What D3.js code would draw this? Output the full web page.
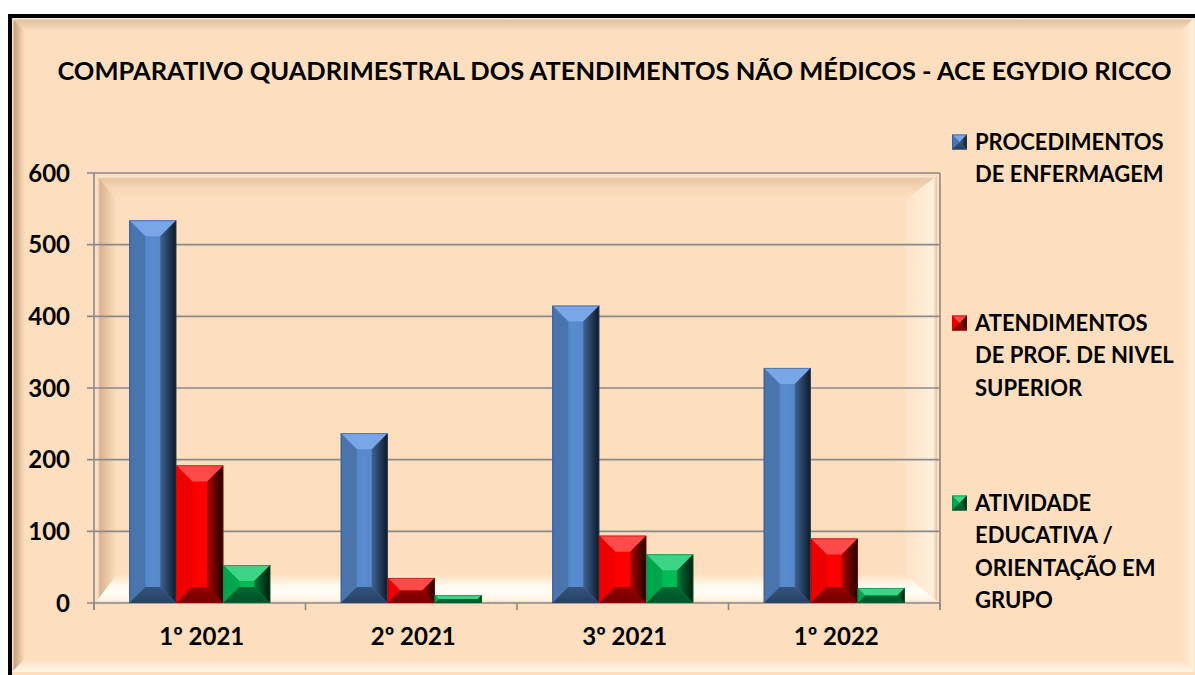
<!DOCTYPE html>
<html>
<head>
<meta charset="utf-8">
<script src="https://cdn.jsdelivr.net/npm/d3@7"></script>
<style>
  html, body { margin: 0; padding: 0; background: #ffffff; }
  svg { display: block; }
  text { font-family: Lato, "Open Sans", sans-serif; font-weight: bold; fill: #000; }
</style>
</head>
<body>
<svg id="chart" width="1195" height="675"></svg>
<script>
// ---- data ----
const title = "COMPARATIVO QUADRIMESTRAL DOS ATENDIMENTOS NÃO MÉDICOS - ACE EGYDIO RICCO";
const categories = ["1º 2021", "2º 2021", "3º 2021", "1º 2022"];
const seriesNames = ["PROCEDIMENTOS DE ENFERMAGEM", "ATENDIMENTOS DE PROF. DE NIVEL SUPERIOR", "ATIVIDADE EDUCATIVA / ORIENTAÇÃO EM GRUPO"];
const legendLines = [
  ["PROCEDIMENTOS", "DE ENFERMAGEM"],
  ["ATENDIMENTOS", "DE PROF. DE NIVEL", "SUPERIOR"],
  ["ATIVIDADE", "EDUCATIVA /", "ORIENTAÇÃO EM", "GRUPO"]
];
const procedimentos = [534, 237, 415, 328];
const atendimentos = [192, 35, 94, 90];
const atividade = [53, 11, 68, 21];
const yTicks = [0, 100, 200, 300, 400, 500, 600];

const seriesValues = [procedimentos, atendimentos, atividade];

// ---- styles ----
const palettes = [
  { face: "#5282C2", left: "#4A74AE", top: "#79A6E6", right0: "#3F6394", right1: "#0E1826", bottom: "#34557F", edge: "#2E4A72" },
  { face: "#FF0000", left: "#EE0000", top: "#FF4A4A", right0: "#B00000", right1: "#1A0000", bottom: "#960000", edge: "#B00000" },
  { face: "#00B050", left: "#00A64B", top: "#3ED488", right0: "#007838", right1: "#001A0C", bottom: "#006A34", edge: "#007038" }
];

const svg = d3.select("#chart");
const defs = svg.append("defs");

function linGrad(id, x1, y1, x2, y2, stops) {
  const g = defs.append("linearGradient").attr("id", id)
    .attr("x1", x1).attr("y1", y1).attr("x2", x2).attr("y2", y2);
  stops.forEach(s => g.append("stop").attr("offset", s[0]).attr("stop-color", s[1]));
  return "url(#" + id + ")";
}

palettes.forEach((p, i) => {
  p.rightFill = linGrad("rg" + i, 0, 0, 1, 0, [[0, p.right0], [1, p.right1]]);
  p.faceFill = linGrad("fg" + i, 0, 0, 1, 0, [[0, p.left], [0.45, d3.color(p.face).brighter(0.2)], [1, p.face]]);
  p.bottomFill = linGrad("bg" + i, 0, 0, 0, 1, [[0, p.bottom], [1, d3.color(p.bottom).darker(0.8)]]);
});

// ---- frame ----
svg.append("rect").attr("x", 8).attr("y", 14).attr("width", 1300).attr("height", 800).attr("fill", "#000");
svg.append("rect").attr("x", 12).attr("y", 18).attr("width", 1300).attr("height", 800).attr("fill", "#FDDFBF");
// outer bevel
const ob = 13;
const oL = 12, oT = 18, oR = 1194, oB = 672;
svg.append("polygon").attr("points", [[oL, oT], [oR, oT], [oR - ob, oT + ob], [oL + ob, oT + ob]].join(" "))
  .attr("fill", linGrad("obt", 0, 0, 0, 1, [[0, "#FFF1DE"], [0.2, "#E2C0A0"], [1, "#FDDFBF"]]));
svg.append("polygon").attr("points", [[oL, oT], [oL + ob, oT + ob], [oL + ob, oB - ob], [oL, oB]].join(" "))
  .attr("fill", linGrad("obl", 0, 0, 1, 0, [[0, "#FFF1DE"], [0.2, "#C9A382"], [1, "#FDDFBF"]]));
svg.append("polygon").attr("points", [[oL, oB], [oR, oB], [oR - ob, oB - ob], [oL + ob, oB - ob]].join(" "))
  .attr("fill", linGrad("obb", 0, 1, 0, 0, [[0, "#FFF6EA"], [0.45, "#FFEBD6"], [1, "#FDDFBF"]]));
svg.append("polygon").attr("points", [[oR, oT], [oR, oB], [oR - ob, oB - ob], [oR - ob, oT + ob]].join(" "))
  .attr("fill", linGrad("obr", 1, 0, 0, 0, [[0, "#FFF1DE"], [0.4, "#FEE7CF"], [1, "#FDDFBF"]]));

// ---- scales ----
const x0 = d3.scaleBand().domain(categories).range([94, 940]).padding(0);
const x1 = d3.scaleBand().domain(d3.range(seriesNames.length)).range([0, x0.bandwidth()])
  .paddingInner(0).paddingOuter(0.75);
const y = d3.scaleLinear().domain([0, 600]).range([603, 173]);

const pL = x0.range()[0], pR = x0.range()[1], pT = y(600), pB = y(0);

// ---- plot wall with bevel ----
svg.append("rect").attr("x", pL).attr("y", pT).attr("width", pR - pL).attr("height", pB - pT).attr("fill", "#FDDFBF");
const iL = pL + 3, iT = pT + 3, iR = pR - 3, iB = pB - 2;
const bt = 24, bl = 20, bb = 27, br = 32;
svg.append("polygon").attr("points", [[iL, iT], [iR, iT], [iR - br, iT + bt], [iL + bl, iT + bt]].join(" "))
  .attr("fill", linGrad("wt", 0, 0, 0, 1, [[0, "#FFEBD6"], [0.12, "#E9C6A6"], [0.5, "#F6D6B4"], [1, "#FDDFBF"]]));
svg.append("polygon").attr("points", [[iL, iT], [iL + bl, iT + bt], [iL + bl, iB - bb], [iL, iB]].join(" "))
  .attr("fill", linGrad("wl", 0, 0, 1, 0, [[0, "#FFEBD6"], [0.15, "#D9B392"], [0.6, "#EDCBAA"], [1, "#FDDFBF"]]));
svg.append("polygon").attr("points", [[iL, iB], [iR, iB], [iR - br, iB - bb], [iL + bl, iB - bb]].join(" "))
  .attr("fill", linGrad("wb", 0, 1, 0, 0, [[0, "#FFF3E2"], [0.35, "#FFFDF6"], [0.6, "#FFF8EC"], [1, "#FDDFBF"]]));
svg.append("polygon").attr("points", [[iR, iT], [iR, iB], [iR - br, iB - bb], [iR - br, iT + bt]].join(" "))
  .attr("fill", linGrad("wr", 1, 0, 0, 0, [[0, "#E5C2A2"], [0.12, "#FFEFDC"], [1, "#FDE3C7"]]));

// ---- gridlines & axes ----
const gridColor = "#8A8A8A";
svg.append("g").selectAll("line").data(yTicks).join("line")
  .attr("x1", pL - 7).attr("x2", pR)
  .attr("y1", d => y(d)).attr("y2", d => y(d))
  .attr("stroke", gridColor).attr("stroke-width", 1.6);
svg.append("line").attr("x1", pL).attr("x2", pL).attr("y1", pT).attr("y2", pB + 7)
  .attr("stroke", gridColor).attr("stroke-width", 1.6);
svg.append("line").attr("x1", pR).attr("x2", pR).attr("y1", pT).attr("y2", pB + 7)
  .attr("stroke", gridColor).attr("stroke-width", 1.6);
const catTicks = categories.map(c => x0(c)).concat([pR]);
svg.append("g").selectAll("line").data(catTicks).join("line")
  .attr("x1", d => d).attr("x2", d => d).attr("y1", pB).attr("y2", pB + 7)
  .attr("stroke", gridColor).attr("stroke-width", 1.6);

// y labels
svg.append("g").selectAll("text").data(yTicks).join("text")
  .attr("x", 70).attr("y", d => y(d) + 8.5)
  .attr("text-anchor", "end").attr("font-size", 24)
  .text(d => d);

// x labels
svg.append("g").selectAll("text").data(categories).join("text")
  .attr("x", d => x0(d) + x0.bandwidth() / 2 + 2).attr("y", 645)
  .attr("text-anchor", "middle").attr("font-size", 24)
  .text(d => d);

// ---- bevel bars ----
function bevelBar(g, bx, by, w, h, p, maxB) {
  if (h <= 0) return;
  const b = Math.min(maxB, h / 2, w / 2);
  g.append("rect").attr("x", bx).attr("y", by).attr("width", w).attr("height", h).attr("fill", p.faceFill);
  g.append("polygon").attr("points", [[bx, by], [bx + w, by], [bx + w - b, by + b], [bx + b, by + b]].join(" ")).attr("fill", p.top);
  g.append("polygon").attr("points", [[bx, by], [bx + b, by + b], [bx + b, by + h - b], [bx, by + h]].join(" ")).attr("fill", p.left);
  g.append("polygon").attr("points", [[bx + w, by], [bx + w, by + h], [bx + w - b, by + h - b], [bx + w - b, by + b]].join(" ")).attr("fill", p.rightFill);
  g.append("polygon").attr("points", [[bx, by + h], [bx + w, by + h], [bx + w - b, by + h - b], [bx + b, by + h - b]].join(" ")).attr("fill", p.bottomFill);
  g.append("rect").attr("x", bx + 0.5).attr("y", by + 0.5).attr("width", w - 1).attr("height", h - 1)
    .attr("fill", "none").attr("stroke", p.edge).attr("stroke-width", 1).attr("stroke-opacity", 0.5);
}

const barsG = svg.append("g");
categories.forEach((c, ci) => {
  seriesValues.forEach((vals, si) => {
    const v = vals[ci];
    const bx = x0(c) + x1(si);
    const by = y(v);
    bevelBar(barsG, bx, by, x1.bandwidth(), y(0) - by, palettes[si], 16);
  });
});

// ---- title ----
const t = svg.append("text").attr("x", 614.5).attr("y", 80).attr("text-anchor", "middle")
  .attr("font-size", 25).text(title);
const len = t.node().getComputedTextLength();
t.attr("font-size", 25 * 1115 / len);

// ---- legend ----
const legendTops = [142, 323, 503];
const lg = svg.append("g");
legendLines.forEach((lines, i) => {
  const cy = legendTops[i];
  bevelBar(lg, 952, cy - 7.5, 15, 15, palettes[i], 7.5);
  lines.forEach((ln, j) => {
    lg.append("text").attr("x", 975).attr("y", cy + 7.8 + j * 32.5)
      .attr("font-size", 22).text(ln);
  });
});
</script>
</body>
</html>
